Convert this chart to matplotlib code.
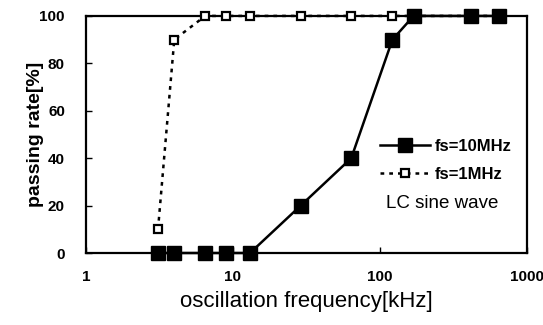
import matplotlib
matplotlib.use("Agg")
import matplotlib.pyplot as plt

plt.rcParams["font.family"] = ["Liberation Sans", "DejaVu Sans"]

freq_10m = [3.1, 4.0, 6.5, 9.0, 13.1, 29, 64, 122, 170, 420, 650]
rate_10m = [0, 0, 0, 0, 0, 20, 40, 90, 100, 100, 100]
freq_1m = [3.1, 4.0, 6.5, 9.0, 13.1, 29, 64, 122, 170, 420, 650]
rate_1m = [10, 90, 100, 100, 100, 100, 100, 100, 100, 100, 100]
xticks = [1, 10, 100, 1000]
yticks = [0, 20, 40, 60, 80, 100]

fig = plt.figure(figsize=(5.43, 3.25), dpi=100)
ax = fig.add_axes([0.158, 0.2215, 0.812, 0.7295])

ax.plot(freq_1m, rate_1m, ls=(0, (1.5, 2)), lw=1.8, color="black",
        marker="s", ms=6, mfc="white", mec="black", mew=1.6,
        label="fs=1MHz", clip_on=False, zorder=3)
ax.plot(freq_10m, rate_10m, ls="-", lw=1.8, color="black",
        marker="s", ms=10, mfc="black", mec="black",
        label="fs=10MHz", clip_on=False, zorder=4)

ax.set_xscale("log")
ax.set_xlim(1, 1000)
ax.set_ylim(0, 100)
ax.set_xticks(xticks)
ax.set_xticklabels([str(t) for t in xticks])
ax.set_yticks(yticks)
ax.minorticks_off()
ax.tick_params(direction="in", length=4, width=1, labelsize=11)
ax.tick_params(axis="y", pad=15)
ax.tick_params(axis="x", pad=12)
for lab in ax.get_xticklabels() + ax.get_yticklabels():
    lab.set_fontweight("bold")
for s in ax.spines.values():
    s.set_linewidth(1.6)

ax.set_xlabel("oscillation frequency[kHz]", fontsize=16, labelpad=5)
ax.set_ylabel("passing rate[%]", fontsize=14, fontweight="bold", labelpad=-3)

h, l = ax.get_legend_handles_labels()
leg = ax.legend(h[::-1], l[::-1], loc="upper left", bbox_to_anchor=(0.64, 0.53),
                frameon=False, handlelength=3.0, handletextpad=0.3,
                labelspacing=0.75, borderpad=0.2,
                prop={"weight": "bold", "size": 12})
ax.text(0.68, 0.19, "LC sine wave", transform=ax.transAxes, fontsize=13.5)

fig.savefig("out.png", dpi=100)
